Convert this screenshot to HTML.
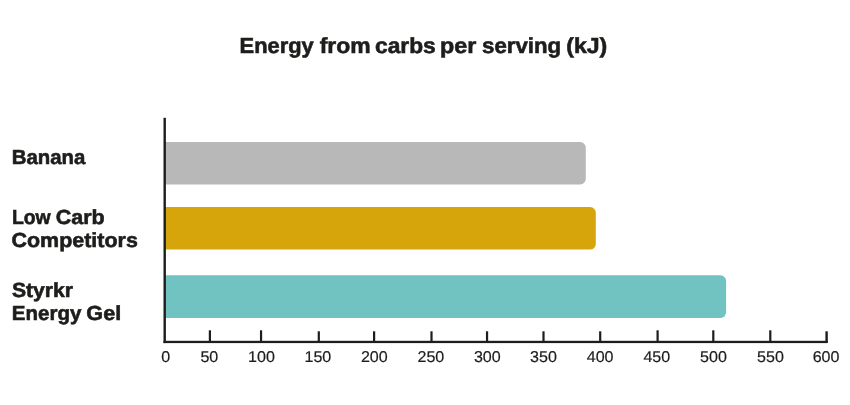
<!DOCTYPE html>
<html lang="en">
<head>
<meta charset="utf-8">
<title>Energy from carbs per serving (kJ)</title>
<style>
html,body{margin:0;padding:0;background:#fff;}
body{width:850px;height:405px;overflow:hidden;position:relative;}
svg{position:absolute;left:0;top:0;display:block;}
text{font-family:"Liberation Sans",Arial,Helvetica,sans-serif;fill:#1d1d1b;stroke:#1d1d1b;stroke-width:0.6px;white-space:pre;text-rendering:geometricPrecision;}
.t{font-weight:bold;font-size:21.8px;}
.l{font-weight:bold;font-size:20.4px;}
.n{font-size:15.6px;stroke-width:0.2px;}
</style>
</head>
<body>
<svg width="850" height="405" viewBox="0 0 850 405">
  <rect x="0" y="0" width="850" height="405" fill="#ffffff"/>
  <text class="t" transform="translate(239.57 52.6) scale(1.0041 1)">Energy</text>
  <text class="t" transform="translate(319.67 52.6) scale(1.0519 1)">from</text>
  <text class="t" transform="translate(374.98 52.6) scale(1.0439 1)">carbs</text>
  <text class="t" transform="translate(440.00 52.6) scale(1.0687 1)">per</text>
  <text class="t" transform="translate(482.12 52.6) scale(1.0197 1)">serving</text>
  <text class="t" transform="translate(566.20 52.6) scale(1.0604 1)">(kJ)</text>
  <path d="M165 142H580.2a5.6 5.6 0 0 1 5.6 5.6V178.8a5.6 5.6 0 0 1-5.6 5.6H165Z" fill="#b8b8b8"/>
  <path d="M165 207H590.2a5.6 5.6 0 0 1 5.6 5.6V244a5.6 5.6 0 0 1-5.6 5.6H165Z" fill="#d6a50b"/>
  <path d="M165 275.3H720.5a5.6 5.6 0 0 1 5.6 5.6V312.3a5.6 5.6 0 0 1-5.6 5.6H165Z" fill="#70c3c1"/>
  <g fill="#1d1d1b">
    <rect x="163.5" y="117.8" width="2.4" height="225.3"/>
    <rect x="163.5" y="340.8" width="664.3" height="2.3"/>
    <rect x="208.80" y="330.3" width="2.2" height="11.2"/>
    <rect x="259.95" y="330.3" width="2.2" height="11.2"/>
    <rect x="317.70" y="331.3" width="2.2" height="10.2"/>
    <rect x="373.00" y="331.3" width="2.2" height="10.2"/>
    <rect x="430.40" y="331.3" width="2.2" height="10.2"/>
    <rect x="485.95" y="331.3" width="2.2" height="10.2"/>
    <rect x="542.40" y="331.3" width="2.2" height="10.2"/>
    <rect x="599.10" y="331.3" width="2.2" height="10.2"/>
    <rect x="656.50" y="330.3" width="2.2" height="11.2"/>
    <rect x="712.20" y="330.3" width="2.2" height="11.2"/>
    <rect x="769.20" y="330.3" width="2.2" height="11.2"/>
    <rect x="825.4" y="331.3" width="2.4" height="11"/>
  </g>
  <text class="n" transform="translate(161.19 362) scale(1.03 1)">0</text>
  <text class="n" transform="translate(200.42 362) scale(1.03 1)">50</text>
  <text class="n" transform="translate(248.09 362) scale(1.03 1)">100</text>
  <text class="n" transform="translate(304.49 362) scale(1.03 1)">150</text>
  <text class="n" transform="translate(360.88 362) scale(1.03 1)">200</text>
  <text class="n" transform="translate(417.48 362) scale(1.03 1)">250</text>
  <text class="n" transform="translate(473.91 362) scale(1.03 1)">300</text>
  <text class="n" transform="translate(530.01 362) scale(1.03 1)">350</text>
  <text class="n" transform="translate(586.74 362) scale(1.03 1)">400</text>
  <text class="n" transform="translate(643.44 362) scale(1.03 1)">450</text>
  <text class="n" transform="translate(700.11 362) scale(1.03 1)">500</text>
  <text class="n" transform="translate(757.01 362) scale(1.03 1)">550</text>
  <text class="n" transform="translate(812.68 362) scale(1.03 1)">600</text>
  <text class="l" transform="translate(11.78 163.6) scale(0.9986 1)">Banana</text>
  <text class="l" transform="translate(11.93 223.8) scale(0.9500 1)">Low</text>
  <text class="l" transform="translate(55.67 223.8) scale(1.0534 1)">Carb</text>
  <text class="l" transform="translate(11.47 246.8) scale(1.0521 1)">Competitors</text>
  <text class="l" transform="translate(11.94 296.6) scale(1.0371 1)">Styrkr</text>
  <text class="l" transform="translate(11.87 319.8) scale(1.0066 1)">Energy</text>
  <text class="l" transform="translate(86.37 319.8) scale(1.0592 1)">Gel</text>
</svg>
</body>
</html>
